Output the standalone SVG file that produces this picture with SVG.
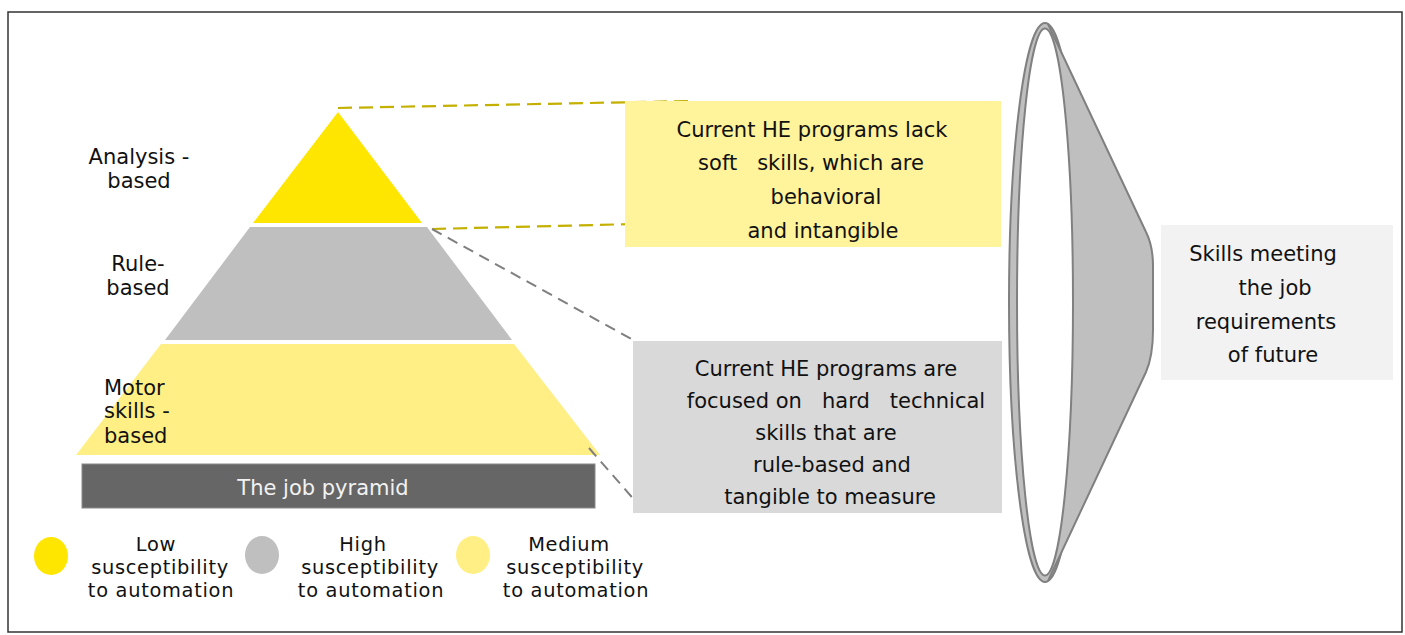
<svg xmlns="http://www.w3.org/2000/svg" width="1405" height="635" viewBox="0 0 1405 635">
<style>
text{font-family:"DejaVu Sans","Liberation Sans",sans-serif;font-size:21px;fill:#111;white-space:pre}
.c{text-anchor:middle}
.lg{font-size:19.4px;letter-spacing:0.7px}
.ydash{stroke:#C4B000;stroke-width:2.2;stroke-dasharray:14,7;fill:none}
.gdash{stroke:#7F7F7F;stroke-width:2;stroke-dasharray:11,7;fill:none}
.ring{stroke:#808080;stroke-width:2}
</style>
<rect x="8" y="12" width="1394" height="620" fill="#fff" stroke="#333" stroke-width="1.5"/>

<g id="pyramid">
<polygon points="338,112 253,223 422,223" fill="#FFE600"/>
<polygon points="250,227 427,227 512,340 165,340" fill="#BFBFBF"/>
<polygon points="161,344 514,344 600,455 76,455" fill="#FFEF84"/>
</g>

<g id="labels">
<text class="c" x="139" y="164">Analysis -</text>
<text class="c" x="139" y="188">based</text>
<text class="c" x="138" y="271">Rule-</text>
<text class="c" x="138" y="295">based</text>
<text x="104" y="395">Motor</text>
<text x="104" y="418">skills -</text>
<text x="104" y="443">based</text>
</g>

<g id="job-pyramid">
<rect x="82" y="464" width="513" height="44" fill="#666" stroke="#8a8a8a" stroke-width="1"/>
<text class="c" x="323" y="495" style="fill:#F2F2F2">The job pyramid</text>
</g>

<g id="connectors">
<line class="ydash" x1="338" y1="108" x2="690" y2="101"/>
<line class="ydash" x1="432" y1="229" x2="635" y2="224"/>
<line class="gdash" x1="432" y1="229" x2="635" y2="341"/>
<line class="gdash" x1="589" y1="448" x2="637" y2="503"/>
</g>

<g id="box-soft">
<rect x="625" y="101" width="376" height="146" fill="#FFF39B"/>
<text class="c" x="812" y="137">Current HE programs lack</text>
<text class="c" x="811" y="170">soft   skills, which are</text>
<text class="c" x="826" y="204">behavioral</text>
<text class="c" x="823" y="238">and intangible</text>
</g>

<g id="box-hard">
<rect x="633" y="341" width="369" height="172" fill="#D9D9D9"/>
<text class="c" x="826" y="376">Current HE programs are</text>
<text class="c" x="836" y="408">focused on   hard   technical</text>
<text class="c" x="826" y="440">skills that are</text>
<text class="c" x="832" y="472">rule-based and</text>
<text class="c" x="830" y="504">tangible to measure</text>
</g>

<g id="lens">
<ellipse class="ring" cx="1045" cy="302.5" rx="36" ry="279.5" fill="#BFBFBF"/>
<path d="M1048,24 L1146,232 Q1153,246 1153,266 L1153,330 Q1153,356 1146,372 L1048,581 Z" fill="#BFBFBF"/>
<path d="M1048,24 L1146,232 Q1153,246 1153,266 L1153,330 Q1153,356 1146,372 L1048,581" fill="none" stroke="#808080" stroke-width="2"/>
<ellipse class="ring" cx="1045" cy="302" rx="28" ry="273.5" fill="#fff"/>
</g>

<g id="box-future">
<rect x="1161" y="225" width="232" height="155" fill="#F2F2F2"/>
<text class="c" x="1263" y="261">Skills meeting</text>
<text class="c" x="1275" y="295">the job</text>
<text class="c" x="1266" y="329">requirements</text>
<text class="c" x="1273" y="362">of future</text>
</g>

<g id="legend-low">
<ellipse cx="51" cy="556" rx="17" ry="19" fill="#FFE600"/>
<text class="c lg" x="156" y="551">Low</text>
<text class="c lg" x="160" y="574">susceptibility</text>
<text class="c lg" x="161" y="597">to automation</text>
</g>
<g id="legend-high">
<ellipse cx="262" cy="555" rx="17" ry="19" fill="#BFBFBF"/>
<text class="c lg" x="363" y="551">High</text>
<text class="c lg" x="370" y="574">susceptibility</text>
<text class="c lg" x="371" y="597">to automation</text>
</g>
<g id="legend-medium">
<ellipse cx="473" cy="555" rx="17" ry="19" fill="#FFEF84"/>
<text class="c lg" x="569" y="551">Medium</text>
<text class="c lg" x="575" y="574">susceptibility</text>
<text class="c lg" x="576" y="597">to automation</text>
</g>
</svg>
